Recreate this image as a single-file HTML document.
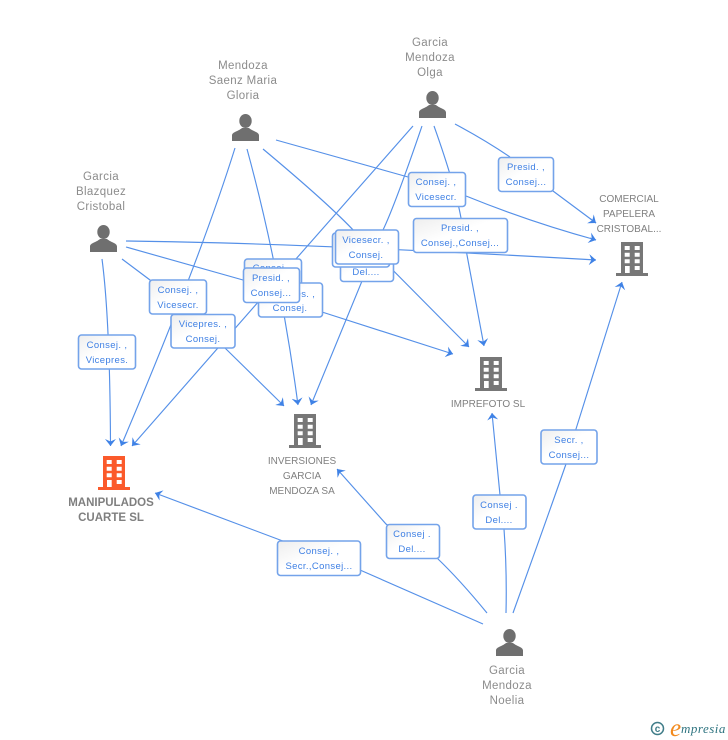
<!DOCTYPE html>
<html><head><meta charset="utf-8"><style>
html,body{margin:0;padding:0;background:#fff}
svg{display:block}
.l{fill:none;stroke:#5590e8;stroke-width:1.15}
.b{fill:url(#g);stroke:#74a3ea;stroke-width:1.6}
.t{font:9.5px "Liberation Sans",sans-serif;fill:#3f80e4;text-anchor:middle;letter-spacing:.35px}
.n{font:11.5px "Liberation Sans",sans-serif;fill:#8c8c8c;text-anchor:middle;letter-spacing:.35px}
.c{font:10px "Liberation Sans",sans-serif;fill:#808080;text-anchor:middle}
.m{font:bold 11.5px "Liberation Sans",sans-serif;fill:#7f7f7f;text-anchor:middle}
</style></head><body>
<svg width="728" height="740" viewBox="0 0 728 740" xmlns="http://www.w3.org/2000/svg">
<defs>
<linearGradient id="g" x1="0" y1="0" x2="1" y2="1"><stop offset="0" stop-color="#eeeeee"/><stop offset=".45" stop-color="#fff"/><stop offset="1" stop-color="#fff"/></linearGradient>
<marker id="a" markerUnits="userSpaceOnUse" markerWidth="12" markerHeight="12" refX="7" refY="5.500" orient="auto"><path d="M7,5.500 L0,0 L2.500,5.500 L0,11 Z" fill="#3f82e6"/></marker>
<g id="p"><ellipse cx="13.500" cy="7" rx="6.200" ry="7" fill="#6f6f6f"/><path d="M0,27 V21.500 C0,18 6,17.500 10,14 H17 C21,17.500 27,18 27,21.500 V27 Z" fill="#6f6f6f"/></g>
<path id="h" fill-rule="evenodd" d="M5,0 H27 V31 H32 V34 H0 V31 H5 Z M8.700,4 V8 H13.700 V4 Z M18.700,4 V8 H23.700 V4 Z M8.700,10.700 V14.700 H13.700 V10.700 Z M18.700,10.700 V14.700 H23.700 V10.700 Z M8.700,17.300 V21.300 H13.700 V17.300 Z M18.700,17.300 V21.300 H23.700 V17.300 Z M9,24 V31 H13.700 V24 Z M18.700,24 V28 H23.700 V24 Z"/>
</defs>

<!-- connectors -->
<g class="l">
<path d="M102,259 Q110,320 110.500,446" marker-end="url(#a)"/>
<path d="M122,259 L150,280 L225,348 L284,406" marker-end="url(#a)"/>
<path d="M126,241 Q300,243 596,260" marker-end="url(#a)"/>
<path d="M126,247 L243,280 L322,312 L453,354" marker-end="url(#a)"/>

<path d="M235,148 Q200,260 121,446" marker-end="url(#a)"/>
<path d="M247,149 Q280,270 298,405" marker-end="url(#a)"/>
<path d="M263,149 Q330,205 355,232 L469,347" marker-end="url(#a)"/>
<path d="M276,140 L408,177 M466,196 Q530,222 596,240" />
<path d="M590,238 L596,240" marker-end="url(#a)"/>

<path d="M413,126 L288,268 L132,446" marker-end="url(#a)"/>
<path d="M422,126 Q395,205 383,230 L311,405" marker-end="url(#a)"/>
<path d="M434,126 Q455,185 461,218 L467,255 L484,346" marker-end="url(#a)"/>
<path d="M455,124 Q485,140 510,157 M553,191 L596,223"/>
<path d="M590,218.500 L596,223" marker-end="url(#a)"/>

<path d="M487,613 Q460,580 437,558 L386,524 L337,469" marker-end="url(#a)"/>
<path d="M483,624 L360,570 L155,493" marker-end="url(#a)"/>
<path d="M506,613 Q507,570 504,529 L500,495 L492,413" marker-end="url(#a)"/>
<path d="M513,613 Q550,510 566,464 L576,429 L622,282" marker-end="url(#a)"/>
</g>

<!-- icons -->
<use href="#p" x="90" y="225"/>
<use href="#p" x="232" y="114"/>
<use href="#p" x="419" y="91"/>
<use href="#p" x="496" y="629"/>
<use href="#h" x="98" y="456" fill="#fb5a2b"/>
<use href="#h" x="289" y="414" fill="#777"/>
<use href="#h" x="475" y="357" fill="#777"/>
<use href="#h" x="616" y="242" fill="#777"/>

<!-- names -->
<g class="n">
<text x="101" y="180">Garcia</text><text x="101" y="195">Blazquez</text><text x="101" y="210">Cristobal</text>
<text x="243" y="69">Mendoza</text><text x="243" y="84">Saenz Maria</text><text x="243" y="99">Gloria</text>
<text x="430" y="46">Garcia</text><text x="430" y="61">Mendoza</text><text x="430" y="76">Olga</text>
<text x="507" y="674">Garcia</text><text x="507" y="689">Mendoza</text><text x="507" y="704">Noelia</text>
</g>
<g class="c">
<text x="629" y="202">COMERCIAL</text><text x="629" y="217">PAPELERA</text><text x="629" y="232">CRISTOBAL...</text>
<text x="302" y="464">INVERSIONES</text><text x="302" y="479">GARCIA</text><text x="302" y="494">MENDOZA SA</text>
<text x="488" y="407">IMPREFOTO SL</text>
</g>
<g class="m"><text x="111" y="506">MANIPULADOS</text><text x="111" y="521">CUARTE SL</text></g>

<!-- label boxes -->
<rect class="b" x="78.500" y="335" width="57" height="34" rx="3"/>
<text class="t" x="107" y="348">Consej. ,</text><text class="t" x="107" y="363">Vicepres.</text>

<rect class="b" x="171" y="314.500" width="64" height="33.500" rx="3"/>
<text class="t" x="203" y="327">Vicepres. ,</text><text class="t" x="203" y="342">Consej.</text>
<rect class="b" x="149.500" y="280" width="57" height="34" rx="3"/>
<text class="t" x="178" y="293">Consej. ,</text><text class="t" x="178" y="308">Vicesecr.</text>

<rect class="b" x="244.500" y="259" width="57" height="34" rx="3"/>
<text class="t" x="273" y="271">Consej. ,</text>
<rect class="b" x="258.500" y="283" width="64" height="34" rx="3"/>
<text class="t" x="291" y="297">Vicepres. ,</text><text class="t" x="290" y="311">Consej.</text>
<rect class="b" x="243.500" y="268" width="56" height="34.500" rx="3"/>
<text class="t" x="271" y="281">Presid. ,</text><text class="t" x="271" y="296">Consej...</text>

<rect class="b" x="498.500" y="157.500" width="55" height="34" rx="3"/>
<text class="t" x="526" y="170">Presid. ,</text><text class="t" x="526" y="185">Consej...</text>
<rect class="b" x="408.500" y="172.500" width="57" height="34" rx="3"/>
<text class="t" x="436" y="185">Consej. ,</text><text class="t" x="436" y="200">Vicesecr.</text>
<rect class="b" x="413.500" y="218.500" width="94" height="34" rx="3"/>
<text class="t" x="460" y="231">Presid. ,</text><text class="t" x="460" y="246">Consej.,Consej...</text>

<rect class="b" x="340.500" y="248" width="53" height="33.500" rx="3"/>
<text class="t" x="366" y="275">Del....</text>
<rect class="b" x="332.500" y="233" width="57" height="34" rx="3"/>
<rect class="b" x="335.500" y="230" width="63" height="34" rx="3"/>
<text class="t" x="366" y="243">Vicesecr. ,</text><text class="t" x="366" y="258">Consej.</text>

<rect class="b" x="277.500" y="541" width="83" height="34.500" rx="3"/>
<text class="t" x="319" y="554">Consej. ,</text><text class="t" x="319" y="569">Secr.,Consej...</text>
<rect class="b" x="386.500" y="524.500" width="53" height="34" rx="3"/>
<text class="t" x="412" y="537">Consej .</text><text class="t" x="412" y="552">Del....</text>
<rect class="b" x="473" y="495" width="53" height="34" rx="3"/>
<text class="t" x="499" y="508">Consej .</text><text class="t" x="499" y="523">Del....</text>
<rect class="b" x="541" y="430" width="56" height="34" rx="3"/>
<text class="t" x="569" y="443">Secr. ,</text><text class="t" x="569" y="458">Consej...</text>

<!-- footer -->
<circle cx="657.500" cy="728.500" r="6" fill="none" stroke="#3f7c88" stroke-width="1.500"/>
<text x="657.500" y="732" font-family="Liberation Sans,sans-serif" font-size="10" font-weight="bold" fill="#3f7c88" text-anchor="middle">c</text>
<text x="670" y="736" font-family="Liberation Serif,serif" font-size="25" font-style="italic" fill="#f28a1e">e</text>
<text x="681" y="733" font-family="Liberation Serif,serif" font-size="13" font-style="italic" fill="#2f7480" letter-spacing=".5">mpresia</text>
</svg>
</body></html>
